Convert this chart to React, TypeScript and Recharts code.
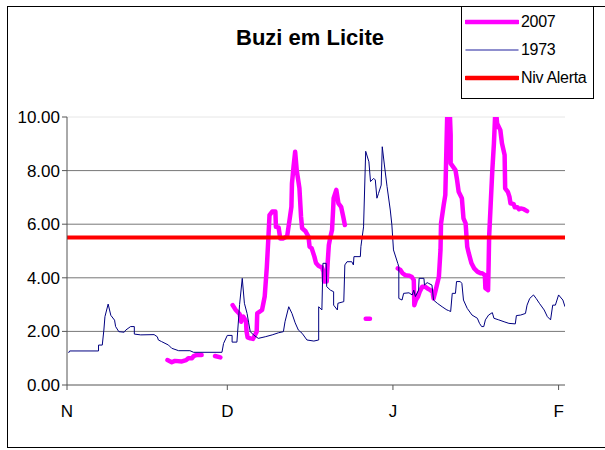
import React from 'react';
import { LineChart, Line, XAxis, YAxis, CartesianGrid, ReferenceLine } from 'recharts';

// x = days since 1 November, y = water level (m)
const monthTicks = [0, 30, 61, 92];
const monthLabels = ['N', 'D', 'J', 'F'];
const levelTicks = [0, 2, 4, 6, 8, 10];
const alertLevel = 5.5;

const days1973 = [
  0.3, 0.5, 5.9, 5.9, 6.6, 6.9, 7.1, 7.7, 8.2, 8.9, 9.1, 9.7, 10.7, 11.0, 11.9, 12.6, 12.6, 13.8, 16.3, 16.9,
  17.1, 17.7, 19.0, 19.6, 20.9, 23.0, 23.7, 29.0, 29.3, 30.0, 30.9, 30.9, 31.8, 32.3, 32.8, 33.2, 33.7, 34.0,
  34.3, 34.9, 35.8, 37.1, 38.4, 39.6, 40.5, 40.8, 41.5, 42.1, 42.7, 43.3, 44.0, 44.9, 46.2, 47.1, 47.1, 47.7,
  47.9, 48.5, 48.6, 49.3, 49.9, 49.9, 50.6, 50.7, 51.8, 52.0, 52.4, 53.3, 53.6, 53.7, 54.9, 55.0, 55.5, 55.9,
  56.5, 56.8, 57.4, 57.7, 58.0, 58.3, 58.8, 59.0, 59.4, 59.9, 60.5, 60.8, 61.1, 61.9, 62.1, 62.1, 62.7, 63.0,
  64.0, 64.6, 64.9, 65.2, 65.8, 65.9, 66.8, 66.9, 67.4, 67.7, 68.3, 68.6, 69.3, 70.2, 71.1, 71.4, 71.8, 72.1,
  72.7, 72.9, 73.6, 73.9, 74.2, 74.9, 75.8, 76.8, 77.2, 77.6, 78.0, 78.3, 78.9, 79.6, 79.9, 80.8, 81.8, 82.7,
  83.9, 84.1, 84.9, 85.8, 86.1, 86.6, 87.3, 87.8, 88.4, 89.3, 89.9, 90.5, 90.9, 91.4, 92.0, 92.8, 93.2,
];
const levels1973 = [
  1.2, 1.27, 1.27, 1.49, 1.49, 2.05, 2.55, 3.02, 2.6, 2.42, 2.18, 1.99, 1.97, 2.05, 2.18, 2.18, 1.9, 1.87, 1.88, 1.8,
  1.68, 1.62, 1.49, 1.37, 1.28, 1.28, 1.22, 1.22, 1.55, 1.85, 1.85, 1.6, 1.6, 3.0, 3.98, 3.05, 2.67, 2.32,
  1.99, 1.87, 1.74, 1.8, 1.87, 1.95, 1.99, 2.36, 2.92, 2.67, 2.32, 2.05, 1.93, 1.68, 1.64, 1.68, 2.92, 2.8,
  4.54, 4.54, 3.67, 3.54, 3.48, 2.98, 2.8, 3.05, 3.11, 4.48, 4.6, 4.6, 4.48, 4.79, 4.79, 5.16, 5.9, 8.72,
  8.33, 7.59, 7.71, 7.65, 6.97, 7.15, 7.46, 8.89, 8.21, 7.4, 6.53, 5.97, 5.04, 4.54, 4.41, 3.23, 3.17, 3.42,
  3.44, 3.36, 3.54, 3.3, 3.54, 3.98, 3.98, 3.73, 3.82, 3.79, 3.73, 3.17, 3.05, 2.92, 2.8, 2.78, 2.74, 3.42,
  3.42, 3.86, 3.86, 3.79, 3.17, 2.86, 2.61, 2.49, 2.3, 2.18, 2.18, 2.43, 2.61, 2.7, 2.49, 2.43, 2.36, 2.3,
  2.28, 2.59, 2.61, 2.67, 2.98, 3.23, 3.36, 3.23, 3.05, 2.8, 2.55, 2.43, 2.98, 2.98, 3.36, 3.17, 2.92,
];

// null marks a gap in the 2007 record
const days2007 = [
  18.8, 19.6, 20.2, 21.5, 22.3, 22.7, 23.4, 23.7, 24.3, 25.2, 26.5,
  27.7, 28.7, 29.8,
  31.0, 31.5, 32.3, 32.6, 33.0, 33.5, 33.6, 33.8, 34.3, 34.8, 35.5, 35.6, 36.5, 37.0, 37.4, 37.7, 37.9, 38.4,
  39.0, 39.1, 39.6, 39.9, 40.5, 41.2, 41.6, 42.0, 42.1, 42.4, 42.7, 43.0, 43.5, 43.8, 44.0, 44.6, 45.2, 45.4,
  45.8, 46.3, 46.6, 47.1, 47.7, 48.0, 48.1, 48.6, 48.8, 49.0, 49.3, 49.6, 49.8, 49.9, 50.4, 50.8, 51.3, 51.7,
  52.0, 54.0,
  55.9, 56.7, 59.0,
  61.9, 62.4, 62.8, 63.3, 64.0, 64.5, 64.9, 65.0, 65.3, 65.7, 66.0, 66.5, 67.0, 67.4, 68.0, 68.4, 68.6, 69.0,
  69.6, 69.9, 70.0, 70.5, 70.8, 71.0, 71.2, 71.6, 71.8, 71.8, 72.7, 73.0, 73.3, 73.9, 74.2, 74.6, 74.9, 75.2,
  75.7, 76.2, 76.8, 77.4, 77.7, 78.2, 78.3, 78.8, 78.9, 79.0, 79.3, 79.6, 79.9, 80.2, 80.5, 81.1, 81.4, 81.9,
  82.0, 82.5, 82.8, 83.0, 83.6, 83.8, 84.3, 84.6, 84.9, 85.5, 86.1,
];
const levels2007 = [
  0.93, 0.85, 0.9, 0.88, 0.93, 1.0, 1.0, 1.08, 1.12, 1.12, null,
  1.08, 1.03, null,
  2.98, 2.82, 2.65, 2.36, 2.55, 2.38, 2.0, 1.78, 1.74, 1.72, 1.99, 2.67, 2.8, 3.3, 4.41, 5.53, 6.34, 6.47,
  6.47, 5.9, 5.88, 5.47, 5.47, 5.55, 6.09, 6.65, 7.52, 8.15, 8.7, 8.0, 7.34, 6.28, 5.85, 5.75, 5.53, 5.16,
  5.1, 4.79, 4.55, 4.44, 4.39, 4.23, 3.86, 3.86, 4.6, 5.22, 5.53, 5.78, 6.53, 6.97, 7.28, 6.78, 6.65, 6.28,
  5.97, null,
  2.47, 2.47, null,
  4.35, 4.29, 4.17, 4.1, 4.08, 4.04, 3.92, 2.98, 3.17, 3.3, 3.48, 3.67, 3.67, 3.61, 3.54, 3.48, 3.23, 3.54,
  4.04, 5.04, 6.03, 6.72, 7.09, 8.77, 10.4, 10.4, 9.33, 8.27, 8.02, 7.65, 7.21, 6.97, 6.22, 6.03, 5.16, 4.91,
  4.54, 4.35, 4.23, 4.17, 4.17, 4.1, 3.61, 3.54, 4.41, 5.53, 6.78, 8.02, 9.02, 10.4, 9.76, 9.51, 9.02, 8.58,
  7.34, 7.21, 7.03, 6.78, 6.75, 6.63, 6.63, 6.56, 6.59, 6.56, 6.49,
];

const data1973 = days1973.map((day, i) => ({ day, level: levels1973[i] }));
const data2007 = days2007.map((day, i) => ({ day, level: levels2007[i] }));

const font = '"Liberation Sans", Arial, sans-serif';

const legendItems = [
  { label: '2007', color: '#ff00ff', width: 4.5 },
  { label: '1973', color: '#6b6bbf', width: 1.5 },
  { label: 'Niv Alerta', color: '#ff0000', width: 4.5 },
];

const Legend = () => (
  <div
    style={{
      position: 'absolute', left: 461, top: 6, width: 131, height: 91,
      border: '1px solid #000', background: '#fff', fontFamily: font, fontSize: 16,
    }}
  >
    {legendItems.map((item, i) => (
      <div key={item.label} style={{ position: 'absolute', left: 3, top: 5 + i * 28, height: 20, display: 'flex', alignItems: 'center' }}>
        <svg width={54} height={20}>
          <line x1={1} y1={10} x2={53} y2={10} stroke={item.color} strokeWidth={item.width} strokeLinecap="round" />
        </svg>
        <span style={{ marginLeft: 2, letterSpacing: -0.3 }}>{item.label}</span>
      </div>
    ))}
  </div>
);

export default function App() {
  return (
    <div style={{ position: 'absolute', left: 0, top: 0, width: 605, height: 450, overflow: 'hidden', background: '#fff' }}>
      <div style={{ position: 'absolute', left: 7, top: 6, width: 650, height: 440, border: '1px solid #000' }} />
      <div
        style={{
          position: 'absolute', left: 0, width: 620, top: 25, textAlign: 'center',
          fontFamily: font, fontWeight: 'bold', fontSize: 22,
        }}
      >
        Buzi em Licite
      </div>
      <div style={{ position: 'absolute', left: 0, top: 0 }}>
        <LineChart width={605} height={450} margin={{ top: 117, right: 40, bottom: 35, left: 0 }}>
          <CartesianGrid horizontal vertical={false} horizontalValues={[2, 4, 6, 8]} stroke="#777" />
          <ReferenceLine y={10} stroke="#e6e6e6" />
          <XAxis
            type="number"
            dataKey="day"
            domain={[0, 93.2]}
            ticks={monthTicks}
            tickFormatter={(v: number) => monthLabels[monthTicks.indexOf(v)]}
            height={30}
            stroke="#555"
            tickSize={5}
            tick={{ fill: '#000', fontFamily: font, fontSize: 17, dy: 13 }}
            allowDataOverflow
          />
          <YAxis
            type="number"
            domain={[0, 10]}
            ticks={levelTicks}
            tickFormatter={(v: number) => v.toFixed(2)}
            width={67}
            stroke="#555"
            tickSize={5}
            tick={{ fill: '#000', fontFamily: font, fontSize: 17 }}
            allowDataOverflow
          />
          <Line
            data={data2007}
            dataKey="level"
            type="linear"
            stroke="#ff00ff"
            strokeWidth={4.5}
            strokeLinejoin="round"
            strokeLinecap="round"
            dot={false}
            connectNulls={false}
            isAnimationActive={false}
          />
          <Line
            data={data1973}
            dataKey="level"
            type="linear"
            stroke="#000080"
            strokeWidth={1}
            dot={false}
            isAnimationActive={false}
          />
          <ReferenceLine y={alertLevel} stroke="#ff0000" strokeWidth={4} />
        </LineChart>
      </div>
      <Legend />
    </div>
  );
}
